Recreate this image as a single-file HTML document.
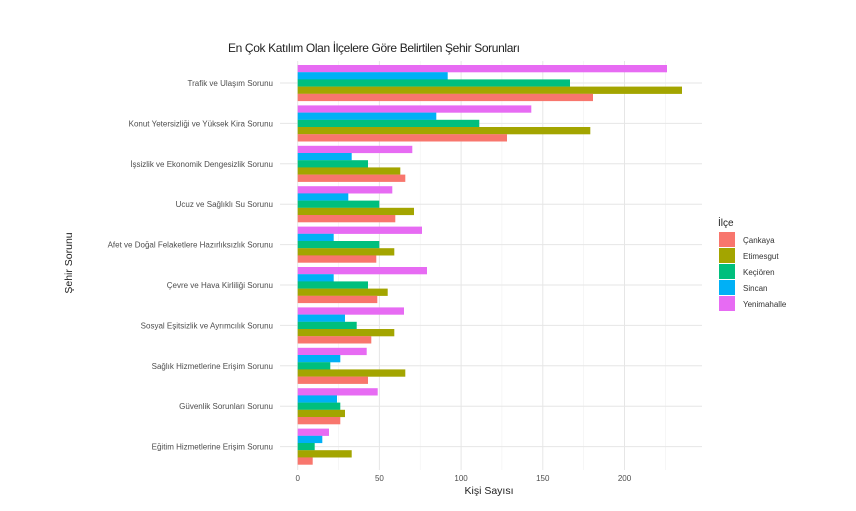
<!DOCTYPE html>
<html><head><meta charset="utf-8"><style>body{margin:0;background:#fff}svg{display:block}text{font-family:"Liberation Sans",sans-serif}</style></head>
<body>
<svg width="856" height="511" viewBox="0 0 856 511" xmlns="http://www.w3.org/2000/svg">
<rect width="856" height="511" fill="#fff"/>
<g stroke="#f0f0f0" stroke-width="0.6">
<line x1="338.5" y1="61" x2="338.5" y2="470"/><line x1="420.2" y1="61" x2="420.2" y2="470"/><line x1="501.9" y1="61" x2="501.9" y2="470"/><line x1="583.6" y1="61" x2="583.6" y2="470"/><line x1="665.3" y1="61" x2="665.3" y2="470"/>
</g>
<g stroke="#e6e6e6" stroke-width="1">
<line x1="297.7" y1="61" x2="297.7" y2="470"/><line x1="379.4" y1="61" x2="379.4" y2="470"/><line x1="461.1" y1="61" x2="461.1" y2="470"/><line x1="542.8" y1="61" x2="542.8" y2="470"/><line x1="624.5" y1="61" x2="624.5" y2="470"/>
<line x1="280" y1="83" x2="702" y2="83"/><line x1="280" y1="123.4" x2="702" y2="123.4"/><line x1="280" y1="163.8" x2="702" y2="163.8"/><line x1="280" y1="204.2" x2="702" y2="204.2"/><line x1="280" y1="244.6" x2="702" y2="244.6"/><line x1="280" y1="285" x2="702" y2="285"/><line x1="280" y1="325.4" x2="702" y2="325.4"/><line x1="280" y1="365.8" x2="702" y2="365.8"/><line x1="280" y1="406.2" x2="702" y2="406.2"/><line x1="280" y1="446.6" x2="702" y2="446.6"/>
</g>
<g id="bars"></g>
<g font-size="8" fill="#4d4d4d" text-anchor="end">
<text x="273" y="86">Trafik ve Ulaşım Sorunu</text>
<text x="273" y="126.4">Konut Yetersizliği ve Yüksek Kira Sorunu</text>
<text x="273" y="166.8">İşsizlik ve Ekonomik Dengesizlik Sorunu</text>
<text x="273" y="207.2">Ucuz ve Sağlıklı Su Sorunu</text>
<text x="273" y="247.6">Afet ve Doğal Felaketlere Hazırlıksızlık Sorunu</text>
<text x="273" y="288">Çevre ve Hava Kirliliği Sorunu</text>
<text x="273" y="328.4">Sosyal Eşitsizlik ve Ayrımcılık Sorunu</text>
<text x="273" y="368.8">Sağlık Hizmetlerine Erişim Sorunu</text>
<text x="273" y="409.2">Güvenlik Sorunları Sorunu</text>
<text x="273" y="449.6">Eğitim Hizmetlerine Erişim Sorunu</text>
</g>
<g font-size="8" fill="#4d4d4d" text-anchor="middle">
<text x="297.7" y="481">0</text><text x="379.4" y="481">50</text><text x="461.1" y="481">100</text><text x="542.8" y="481">150</text><text x="624.5" y="481">200</text>
</g>
<text x="489" y="494" font-size="10.5" text-anchor="middle" fill="#222">Kişi Sayısı</text>
<text transform="translate(72,263) rotate(-90)" font-size="10.5" text-anchor="middle" fill="#222">Şehir Sorunu</text>
<text x="228" y="52" font-size="12" fill="#222" textLength="292">En Çok Katılım Olan İlçelere Göre Belirtilen Şehir Sorunları</text>
<text x="718" y="226" font-size="10" fill="#222">İlçe</text>
<g font-size="8" fill="#333">
<rect x="719" y="232" width="16" height="15" fill="#F8766D"/><text x="743" y="243">Çankaya</text>
<rect x="719" y="248" width="16" height="15" fill="#A3A500"/><text x="743" y="259">Etimesgut</text>
<rect x="719" y="264" width="16" height="15" fill="#00BF7D"/><text x="743" y="275">Keçiören</text>
<rect x="719" y="280" width="16" height="15" fill="#00B0F6"/><text x="743" y="291">Sincan</text>
<rect x="719" y="296" width="16" height="15" fill="#E76BF3"/><text x="743" y="307">Yenimahalle</text>
</g>
<!-- bars: order Y,S,K,E,C -->
<g>
<!-- g1 -->
<rect x="297.7" y="65" width="369.3" height="7.3" fill="#E76BF3"/><rect x="297.7" y="72.2" width="150" height="7.3" fill="#00B0F6"/><rect x="297.7" y="79.4" width="272.3" height="7.3" fill="#00BF7D"/><rect x="297.7" y="86.6" width="384.3" height="7.3" fill="#A3A500"/><rect x="297.7" y="93.8" width="295.3" height="7.3" fill="#F8766D"/>
<!-- g2 -->
<rect x="297.7" y="105.4" width="233.6" height="7.3" fill="#E76BF3"/><rect x="297.7" y="112.6" width="138.6" height="7.3" fill="#00B0F6"/><rect x="297.7" y="119.8" width="181.6" height="7.3" fill="#00BF7D"/><rect x="297.7" y="127" width="292.6" height="7.3" fill="#A3A500"/><rect x="297.7" y="134.2" width="209.3" height="7.3" fill="#F8766D"/>
<!-- g3 -->
<rect x="297.7" y="145.8" width="114.6" height="7.3" fill="#E76BF3"/><rect x="297.7" y="153" width="54" height="7.3" fill="#00B0F6"/><rect x="297.7" y="160.2" width="70.3" height="7.3" fill="#00BF7D"/><rect x="297.7" y="167.4" width="102.6" height="7.3" fill="#A3A500"/><rect x="297.7" y="174.6" width="107.6" height="7.3" fill="#F8766D"/>
<!-- g4 -->
<rect x="297.7" y="186.2" width="94.6" height="7.3" fill="#E76BF3"/><rect x="297.7" y="193.4" width="50.6" height="7.3" fill="#00B0F6"/><rect x="297.7" y="200.6" width="81.6" height="7.3" fill="#00BF7D"/><rect x="297.7" y="207.8" width="116.3" height="7.3" fill="#A3A500"/><rect x="297.7" y="215" width="97.6" height="7.3" fill="#F8766D"/>
<!-- g5 -->
<rect x="297.7" y="226.6" width="124.3" height="7.3" fill="#E76BF3"/><rect x="297.7" y="233.8" width="36" height="7.3" fill="#00B0F6"/><rect x="297.7" y="241" width="81.6" height="7.3" fill="#00BF7D"/><rect x="297.7" y="248.2" width="96.6" height="7.3" fill="#A3A500"/><rect x="297.7" y="255.4" width="78.6" height="7.3" fill="#F8766D"/>
<!-- g6 -->
<rect x="297.7" y="267" width="129.3" height="7.3" fill="#E76BF3"/><rect x="297.7" y="274.2" width="36" height="7.3" fill="#00B0F6"/><rect x="297.7" y="281.4" width="70.3" height="7.3" fill="#00BF7D"/><rect x="297.7" y="288.6" width="90" height="7.3" fill="#A3A500"/><rect x="297.7" y="295.8" width="79.6" height="7.3" fill="#F8766D"/>
<!-- g7 -->
<rect x="297.7" y="307.4" width="106.3" height="7.3" fill="#E76BF3"/><rect x="297.7" y="314.6" width="47.3" height="7.3" fill="#00B0F6"/><rect x="297.7" y="321.8" width="59" height="7.3" fill="#00BF7D"/><rect x="297.7" y="329" width="96.6" height="7.3" fill="#A3A500"/><rect x="297.7" y="336.2" width="73.6" height="7.3" fill="#F8766D"/>
<!-- g8 -->
<rect x="297.7" y="347.8" width="69" height="7.3" fill="#E76BF3"/><rect x="297.7" y="355" width="42.6" height="7.3" fill="#00B0F6"/><rect x="297.7" y="362.2" width="32.6" height="7.3" fill="#00BF7D"/><rect x="297.7" y="369.4" width="107.6" height="7.3" fill="#A3A500"/><rect x="297.7" y="376.6" width="70.3" height="7.3" fill="#F8766D"/>
<!-- g9 -->
<rect x="297.7" y="388.2" width="80" height="7.3" fill="#E76BF3"/><rect x="297.7" y="395.4" width="39.3" height="7.3" fill="#00B0F6"/><rect x="297.7" y="402.6" width="42.6" height="7.3" fill="#00BF7D"/><rect x="297.7" y="409.8" width="47.3" height="7.3" fill="#A3A500"/><rect x="297.7" y="417" width="42.6" height="7.3" fill="#F8766D"/>
<!-- g10 -->
<rect x="297.7" y="428.6" width="31.3" height="7.3" fill="#E76BF3"/><rect x="297.7" y="435.8" width="24.6" height="7.3" fill="#00B0F6"/><rect x="297.7" y="443" width="17" height="7.3" fill="#00BF7D"/><rect x="297.7" y="450.2" width="54" height="7.3" fill="#A3A500"/><rect x="297.7" y="457.4" width="15" height="7.3" fill="#F8766D"/>
</g>
</svg>
</body></html>
